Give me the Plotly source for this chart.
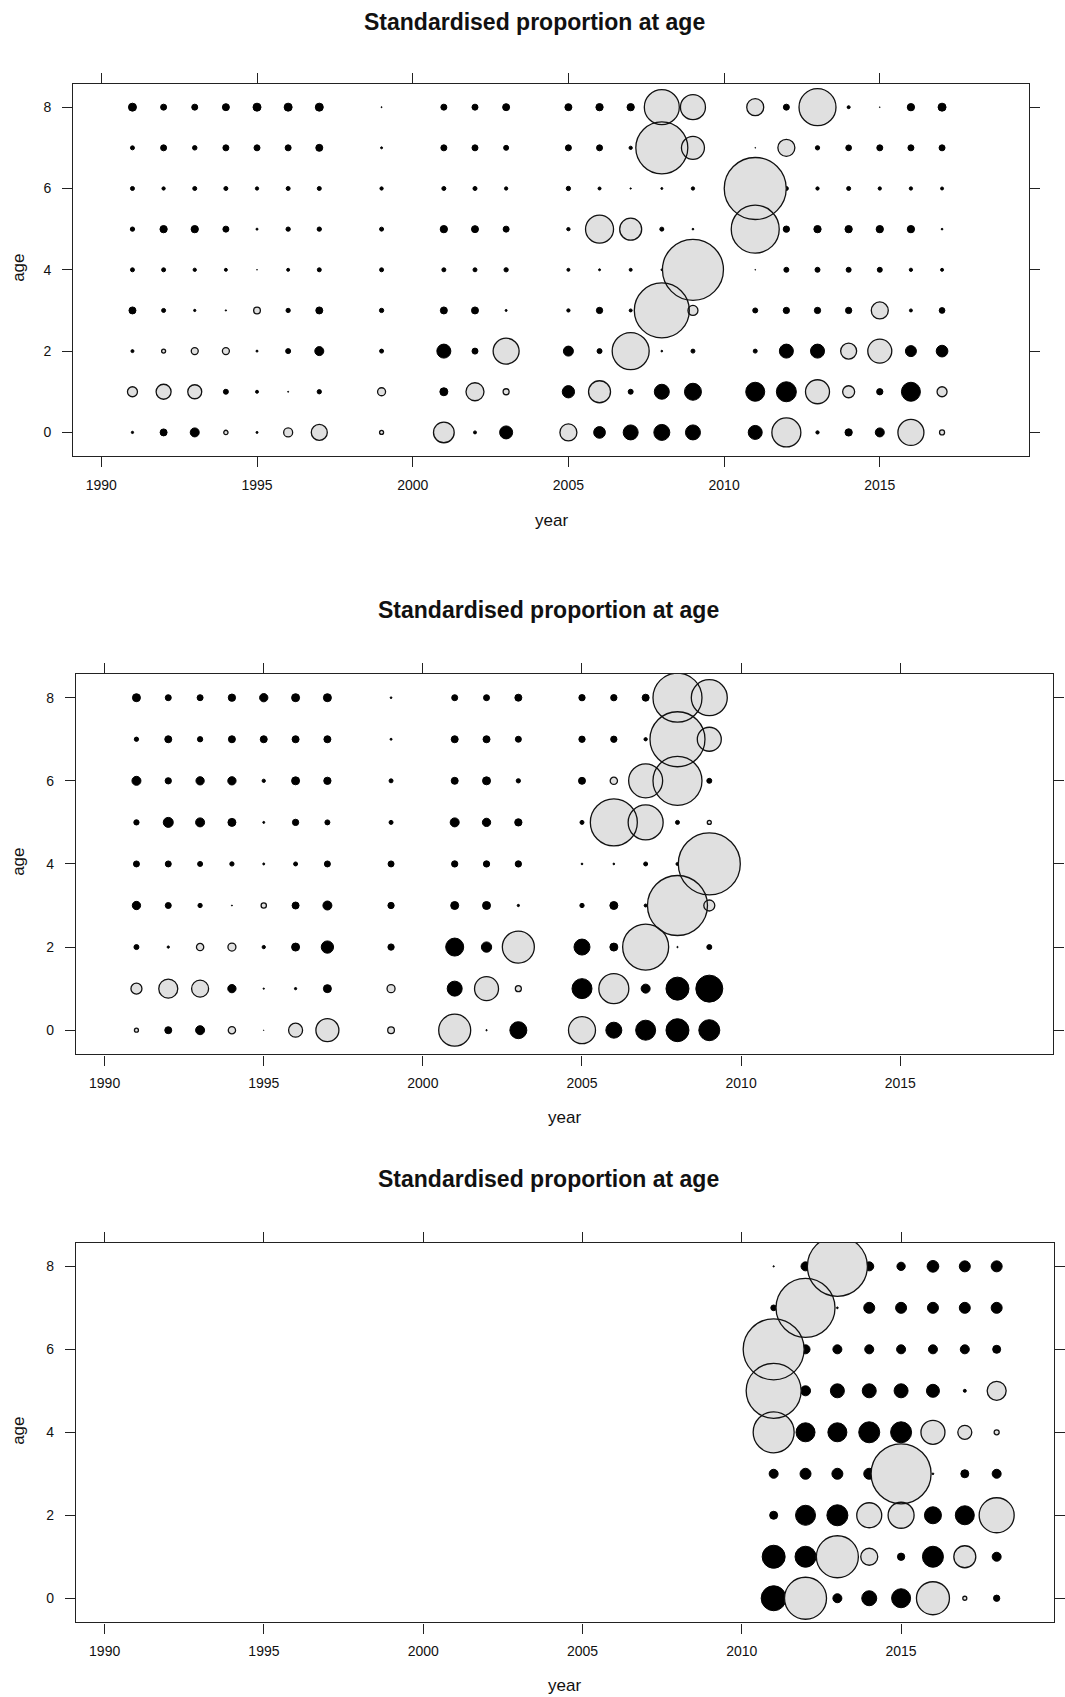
import plotly.graph_objects as go

# ---------------------------------------------------------------------------
# Standardised proportion at age, three data sets (ages 0-8 by year).
# Positive values = grey open bubbles, negative values = black filled bubbles.
# Each list below holds one row per age (index 0 = age 0 ... index 8 = age 8).
# ---------------------------------------------------------------------------
AGES = [0, 1, 2, 3, 4, 5, 6, 7, 8]
AGE_TICKS = [0, 2, 4, 6, 8]
YEAR_TICKS = [1990, 1995, 2000, 2005, 2010, 2015]
TITLE = "Standardised proportion at age"

YEARS_A = [1991, 1992, 1993, 1994, 1995, 1996, 1997, 1999, 2001, 2002, 2003,
           2005, 2006, 2007, 2008, 2009, 2011, 2012, 2013, 2014, 2015, 2016, 2017]
VALUES_A = [
    [-0.33, -0.8, -1.0, 0.43, -0.3, 0.9, 1.6, 0.4, 2.07, -0.4, -1.4,
     1.7, -1.27, -1.6, -1.7, -1.6, -1.5, 2.9, -0.43, -0.83, -1.0, 2.6, 0.5],
    [1.0, 1.5, 1.4, -0.6, -0.4, -0.2, -0.53, 0.8, -0.9, 1.8, 0.6,
     -1.33, 2.2, -0.6, -1.6, -1.8, -2.0, -2.1, 2.4, 1.2, -0.73, -2.0, 1.0],
    [-0.4, 0.4, 0.7, 0.7, -0.3, -0.6, -1.0, -0.5, -1.5, -0.7, 2.6,
     -1.1, -0.6, 3.7, -0.27, -0.5, -0.5, -1.5, -1.5, 1.6, 2.4, -1.2, -1.27],
    [-0.8, -0.5, -0.33, -0.23, 0.67, -0.53, -0.8, -0.53, -0.8, -0.8, -0.3,
     -0.43, -0.73, -0.4, 5.5, 1.0, -0.6, -0.73, -0.73, -0.73, 1.7, -0.4, -0.67],
    [-0.5, -0.5, -0.43, -0.4, -0.17, -0.4, -0.5, -0.5, -0.5, -0.5, -0.53,
     -0.4, -0.3, -0.4, -0.27, 6.1, -0.17, -0.6, -0.6, -0.6, -0.6, -0.43, -0.4],
    [-0.53, -0.83, -0.83, -0.7, -0.3, -0.53, -0.53, -0.5, -0.83, -0.8, -0.7,
     -0.43, 2.8, 2.2, -0.5, -0.27, 4.8, -0.73, -0.83, -0.83, -0.83, -0.83, -0.27],
    [-0.5, -0.43, -0.5, -0.5, -0.43, -0.5, -0.5, -0.43, -0.5, -0.5, -0.43,
     -0.53, -0.4, -0.23, -0.3, -0.43, 6.2, -0.5, -0.43, -0.5, -0.43, -0.43, -0.4],
    [-0.5, -0.7, -0.55, -0.7, -0.7, -0.7, -0.8, -0.3, -0.7, -0.7, -0.6,
     -0.7, -0.7, -0.43, 5.2, 2.3, -0.17, 1.7, -0.53, -0.67, -0.7, -0.7, -0.7],
    [-0.9, -0.7, -0.7, -0.8, -0.9, -0.9, -0.9, -0.2, -0.7, -0.7, -0.8,
     -0.8, -0.83, -0.83, 3.5, 2.5, 1.7, -0.7, 3.7, -0.4, -0.17, -0.83, -0.9],
]

YEARS_B = [1991, 1992, 1993, 1994, 1995, 1996, 1997, 1999, 2001, 2002, 2003,
           2005, 2006, 2007, 2008, 2009]
VALUES_B = [
    [0.4, -0.8, -1.0, 0.73, -0.13, 1.4, 2.3, 0.67, 3.2, -0.23, -1.8,
     2.7, -1.7, -2.1, -2.4, -2.2],
    [1.1, 1.9, 1.7, -0.93, -0.23, -0.33, -0.9, 0.8, -1.6, 2.4, 0.6,
     -2.1, 3.0, -1.0, -2.4, -2.8],
    [-0.6, -0.33, 0.73, 0.8, -0.43, -0.9, -1.33, -0.73, -1.9, -1.13, 3.2,
     -1.7, -0.9, 4.6, -0.23, -0.6],
    [-0.93, -0.7, -0.53, -0.2, 0.53, -0.8, -1.0, -0.73, -0.9, -0.9, -0.33,
     -0.53, -0.9, -0.4, 6.0, 1.1],
    [-0.7, -0.7, -0.6, -0.53, -0.3, -0.5, -0.7, -0.7, -0.73, -0.73, -0.73,
     -0.27, -0.27, -0.5, -0.4, 6.2],
    [-0.63, -1.1, -1.0, -0.9, -0.3, -0.73, -0.6, -0.5, -1.0, -0.93, -0.83,
     -0.5, 4.7, 3.5, -0.5, 0.4],
    [-1.0, -0.73, -0.93, -0.93, -0.43, -0.9, -0.83, -0.5, -0.8, -0.9, -0.53,
     -0.8, 0.73, 3.4, 4.9, -0.6],
    [-0.53, -0.8, -0.63, -0.8, -0.8, -0.8, -0.8, -0.3, -0.8, -0.8, -0.7,
     -0.73, -0.73, -0.43, 5.5, 2.4],
    [-0.9, -0.7, -0.7, -0.83, -0.93, -0.9, -0.9, -0.27, -0.7, -0.7, -0.8,
     -0.73, -0.73, -0.8, 4.9, 3.6],
]

YEARS_C = [2011, 2012, 2013, 2014, 2015, 2016, 2017, 2018]
VALUES_C = [
    [-2.6, 4.2, -1.0, -1.6, -2.0, 3.3, 0.4, -0.73],
    [-2.4, -2.2, 4.2, 1.7, -0.83, -2.2, 2.2, -1.0],
    [-0.9, -2.1, -2.2, 2.5, 2.6, -1.8, -2.0, 3.5],
    [-1.0, -1.2, -1.2, -1.2, 6.0, -0.27, -0.9, -1.0],
    [4.1, -2.0, -2.0, -2.2, -2.2, 2.4, 1.4, 0.5],
    [5.5, -1.1, -1.5, -1.5, -1.5, -1.4, -0.4, 1.9],
    [6.1, -1.0, -1.0, -1.0, -1.0, -1.0, -1.0, -0.9],
    [-0.67, 5.9, -0.27, -1.2, -1.2, -1.2, -1.2, -1.2],
    [-0.23, -1.0, 6.0, -1.0, -0.93, -1.27, -1.2, -1.2],
]

# ---------------------------------------------------------------------------
# Page geometry (pixels) and styling
# ---------------------------------------------------------------------------
W, H = 1065, 1697
FONT = "Liberation Sans, Arial, Helvetica, sans-serif"
BUBBLE_PX = 10.0          # bubble diameter in px per unit of |value|
GREY = "#e0e0e0"
X_RANGE = [1989.1, 2019.8]
Y_RANGE = [-0.58, 8.57]

# plot boxes: left, right, top, bottom (px) plus title / axis-label anchors
PANELS = [
    dict(years=YEARS_A, values=VALUES_A, box=(74, 1039, 84, 456),
         title_xy=(540, 22), xlab_xy=(557, 520), ylab_xy=(18, 268)),
    dict(years=YEARS_B, values=VALUES_B, box=(76.7, 1063, 674, 1054.3),
         title_xy=(554, 610), xlab_xy=(570, 1117), ylab_xy=(18, 862)),
    dict(years=YEARS_C, values=VALUES_C, box=(76.7, 1064, 1242.7, 1622.3),
         title_xy=(554, 1179), xlab_xy=(570, 1685), ylab_xy=(18, 1431)),
]


def px_x(px):
    return px / W


def px_y(py):
    return 1 - py / H


fig = go.Figure()
annotations = []

for i, p in enumerate(PANELS, start=1):
    xa = "x" if i == 1 else f"x{i}"
    ya = "y" if i == 1 else f"y{i}"

    neg_x, neg_y, neg_s = [], [], []
    pos_x, pos_y, pos_s = [], [], []
    for age, row in zip(AGES, p["values"]):
        assert len(row) == len(p["years"])
        for yr, v in zip(p["years"], row):
            if v < 0:
                neg_x.append(yr); neg_y.append(age)
                # the 1px outline adds to the drawn diameter
                neg_s.append(max(-v * BUBBLE_PX - 1.0, 0.5))
            else:
                pos_x.append(yr); pos_y.append(age); pos_s.append(v * BUBBLE_PX)

    # negative residuals: solid black dots (array sizes default to 0.7
    # opacity in plotly, so opacity is pinned to 1)
    fig.add_trace(go.Scatter(
        x=neg_x, y=neg_y, mode="markers", xaxis=xa, yaxis=ya, hoverinfo="skip",
        marker=dict(size=neg_s, color="#000000", opacity=1,
                    line=dict(width=1.0, color="#000000")),
        showlegend=False))
    # positive residuals: grey fill, then outlines on top so overlaps stay visible
    fig.add_trace(go.Scatter(
        x=pos_x, y=pos_y, mode="markers", xaxis=xa, yaxis=ya, hoverinfo="skip",
        marker=dict(size=pos_s, color=GREY, opacity=1, line=dict(width=0)),
        showlegend=False))
    fig.add_trace(go.Scatter(
        x=pos_x, y=pos_y, mode="markers", xaxis=xa, yaxis=ya, hoverinfo="skip",
        marker=dict(size=pos_s, color="rgba(0,0,0,0)", opacity=1,
                    line=dict(width=1.3, color="#111111")),
        showlegend=False))

    left, right, top, bottom = p["box"]
    axis_common = dict(showline=True, linecolor="#222", linewidth=1.4,
                       mirror="allticks", ticks="outside", ticklen=10,
                       tickwidth=1.2, tickcolor="#222", showgrid=False,
                       zeroline=False, fixedrange=True,
                       tickfont=dict(family=FONT, size=14, color="#111"))
    fig.layout[f"xaxis{'' if i == 1 else i}"] = dict(
        axis_common, domain=[px_x(left), px_x(right)], anchor=ya,
        range=X_RANGE, tickvals=YEAR_TICKS, ticklabelstandoff=6)
    fig.layout[f"yaxis{'' if i == 1 else i}"] = dict(
        axis_common, domain=[px_y(bottom), px_y(top)], anchor=xa,
        range=Y_RANGE, tickvals=AGE_TICKS, ticklabelstandoff=8)

    tx, ty = p["title_xy"]
    annotations.append(dict(
        text=TITLE, x=px_x(tx), y=px_y(ty), xref="paper", yref="paper",
        xanchor="center", yanchor="middle", showarrow=False,
        font=dict(family=FONT, size=23, color="#111", weight="bold")))
    lx, ly = p["xlab_xy"]
    annotations.append(dict(
        text="year", x=px_x(lx), y=px_y(ly), xref="paper", yref="paper",
        xanchor="center", yanchor="middle", showarrow=False,
        font=dict(family=FONT, size=17, color="#111")))
    gx, gy = p["ylab_xy"]
    annotations.append(dict(
        text="age", x=px_x(gx), y=px_y(gy), xref="paper", yref="paper",
        xanchor="center", yanchor="middle", showarrow=False, textangle=-90,
        font=dict(family=FONT, size=17, color="#111")))

fig.update_layout(
    width=W, height=H, autosize=False,
    margin=dict(l=0, r=0, t=0, b=0),
    paper_bgcolor="white", plot_bgcolor="white",
    annotations=annotations,
)

fig.write_html("out.html", config={"displayModeBar": False})
